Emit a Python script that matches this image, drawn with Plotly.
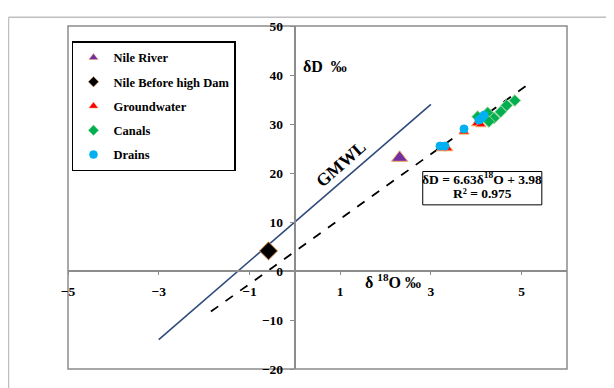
import plotly.graph_objects as go

# ---------------- data ----------------
nile_river_x = [2.31]
nile_river_y = [23.1]
nile_dam_x = [-0.58]
nile_dam_y = [4.1]
gw_x = [3.24, 3.37, 3.73, 4.01, 4.10]
gw_y = [25.0, 25.0, 28.4, 30.1, 29.9]
canals_x = [4.03, 4.25, 4.39, 4.28, 4.54, 4.67, 4.85]
canals_y = [31.5, 32.3, 31.2, 30.5, 32.5, 33.8, 34.8]
drains_x = [3.20, 3.31, 3.73, 4.06, 4.12, 4.17]
drains_y = [25.5, 25.5, 29.0, 30.8, 31.2, 31.8]

gmwl_x = [-3, 3]
gmwl_slope, gmwl_icpt = 8, 10
reg_x = [-1.85, 5.2]
reg_slope, reg_icpt = 6.63, 3.98

x_ticks = [-5, -3, -1, 1, 3, 5]
y_ticks = [-20, -10, 0, 10, 20, 30, 40, 50]

SERIF = "Liberation Serif"
ORANGE = "#F4A460"

fig = go.Figure()

# lines
fig.add_trace(go.Scatter(x=gmwl_x, y=[gmwl_slope * v + gmwl_icpt for v in gmwl_x],
                         mode="lines", line=dict(color="#2E4B7C", width=1.6),
                         showlegend=False, hoverinfo="skip"))
fig.add_trace(go.Scatter(x=reg_x, y=[reg_slope * v + reg_icpt for v in reg_x],
                         mode="lines", line=dict(color="black", width=1.8, dash="dash"),
                         showlegend=False, hoverinfo="skip"))

series = [
    ("Nile River", nile_river_x, nile_river_y, "triangle-up", "#7030A0", 14, ORANGE),
    ("Nile Before high Dam", nile_dam_x, nile_dam_y, "diamond", "black", 14, ORANGE),
    ("Groundwater", gw_x, gw_y, "triangle-up", "#FF0000", 9, ORANGE),
    ("Canals", canals_x, canals_y, "diamond", "#00B050", 9, "#9BD39B"),
    ("Drains", drains_x, drains_y, "circle", "#00B0F0", 8, "#00B0F0"),
]
for name, xs, ys, sym, col, size, lc in series:
    fig.add_trace(go.Scatter(x=xs, y=ys, mode="markers", name=name, showlegend=False,
                             marker=dict(symbol=sym, color=col, size=size,
                                         line=dict(color=lc, width=1))))
# legend entries (small markers like the reference legend)
for i, (name, xs, ys, sym, col, size, lc) in enumerate(series):
    fig.add_trace(go.Scatter(x=[None], y=[None], mode="markers", name=name,
                             legendgroup=f"g{i}",
                             marker=dict(symbol=sym, color=col, size=8,
                                         line=dict(color=lc, width=0.5))))

# page body has an 8px margin: figure sits at (8, 8)
fig.update_layout(
    width=606, height=380,
    margin=dict(l=60, r=47, t=11, b=17),
    paper_bgcolor="white", plot_bgcolor="white",
    font=dict(family=SERIF, size=13, color="black"),
    showlegend=True,
    legend=dict(x=0.008, y=0.955, xanchor="left", yanchor="top",
                bgcolor="white", bordercolor="black", borderwidth=1.5,
                font=dict(family=SERIF, size=12.5, color="black", weight="bold"),
                tracegroupgap=5, itemsizing="trace", itemwidth=30),
    xaxis=dict(range=[-5, 6], tickvals=x_ticks, showgrid=False, zeroline=False,
               anchor="free", position=20 / 70, showline=True, linecolor="#8C8C8C",
               linewidth=2, ticks="outside", ticklen=3, tickcolor="#8C8C8C",
               tickfont=dict(family=SERIF, size=13.5, weight="bold"),
               ticklabelstandoff=5),
    yaxis=dict(range=[-20, 50], tickvals=y_ticks, showgrid=False, zeroline=False,
               anchor="free", position=5 / 11, showline=True, linecolor="#8C8C8C",
               linewidth=2, ticks="outside", ticklen=4, tickcolor="#8C8C8C",
               tickfont=dict(family=SERIF, size=13.5, weight="bold"),
               ticklabelstandoff=4),
)

# plot-area frame
fig.add_shape(type="rect", xref="paper", yref="paper", x0=0, y0=0, x1=1, y1=1,
              line=dict(color="#8C8C8C", width=1.5), layer="below")
# chart-area frame (extends off the image)
fig.add_shape(type="line", xref="paper", yref="paper", x0=-0.1192, x1=-0.1192,
              y0=-0.2, y1=1.0256, line=dict(color="#BFBFBF", width=1.5))
fig.add_shape(type="line", xref="paper", yref="paper", x0=-0.1192, x1=1.2,
              y0=1.0256, y1=1.0256, line=dict(color="#BFBFBF", width=1.5))

bold = dict(family=SERIF, color="black", weight="bold")
fig.add_annotation(x=1.01, y=21.9, xref="x", yref="y", text="GMWL", showarrow=False,
                   textangle=-41.5, font=dict(size=17.5, **bold))
fig.add_annotation(x=0.13, y=41.7, xref="x", yref="y", text="δD  ‰", showarrow=False,
                   xanchor="left", font=dict(size=16, **bold))
fig.add_annotation(x=2.16, y=-2.0, xref="x", yref="y", text="δ <sup>18</sup>O ‰",
                   showarrow=False, font=dict(size=16, **bold))
# regression equation text box
fig.add_shape(type="rect", xref="x", yref="y", x0=2.82, x1=5.445, y0=13.5, y1=20.3,
              line=dict(color="black", width=1), fillcolor="white", layer="above")
fig.add_annotation(x=4.13, y=18.95, xref="x", yref="y",
                   text="δD = 6.63δ<sup>18</sup>O + 3.98",
                   showarrow=False, font=dict(size=13.5, **bold))
fig.add_annotation(x=4.13, y=15.85, xref="x", yref="y", text="R² = 0.975",
                   showarrow=False, font=dict(size=13.5, **bold))

fig.write_html("out.html")
